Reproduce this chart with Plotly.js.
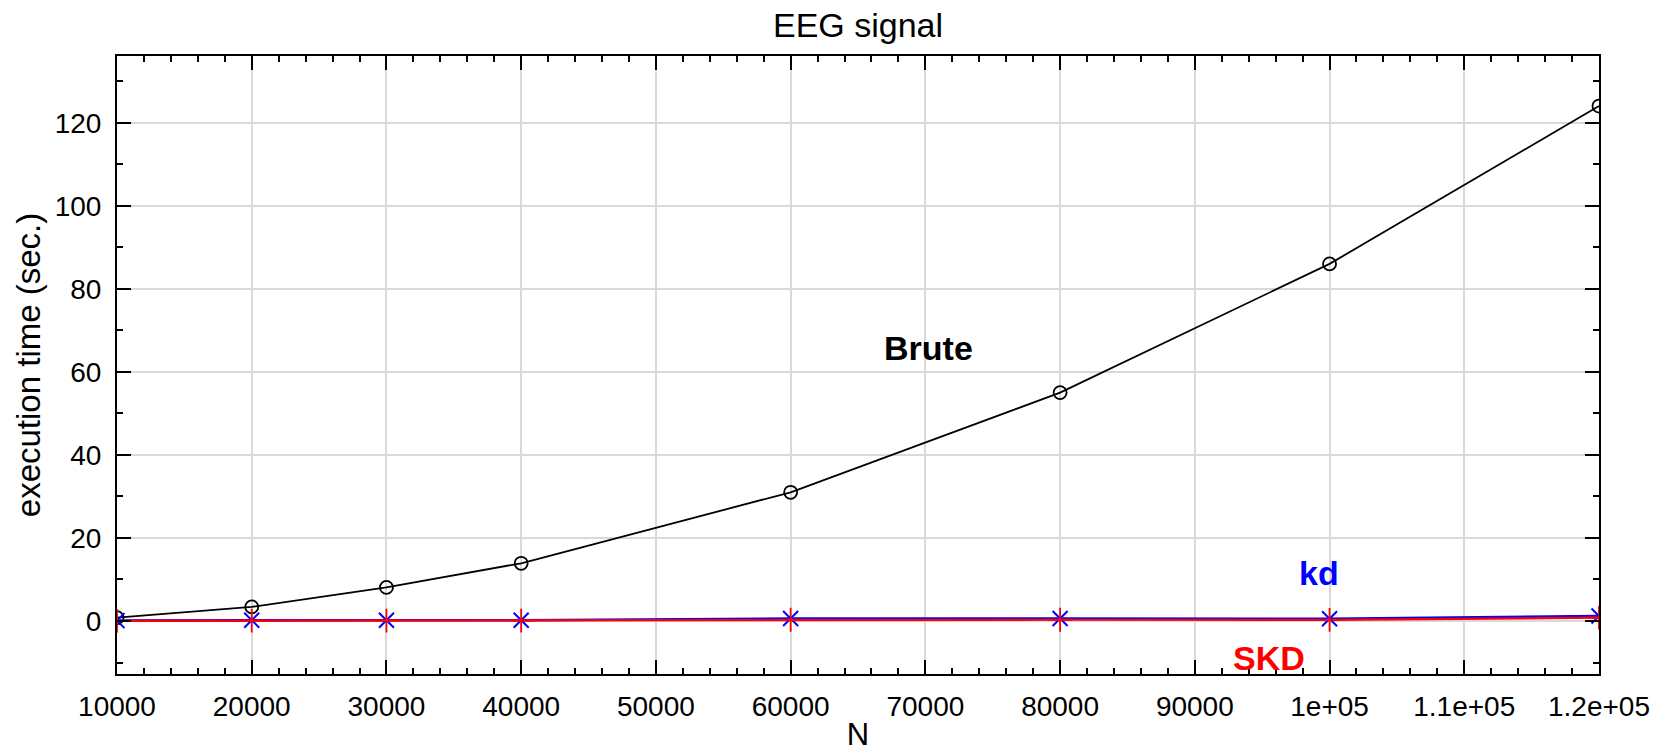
<!DOCTYPE html>
<html>
<head>
<meta charset="utf-8">
<script src="https://cdn.plot.ly/plotly-3.0.1.min.js"></script>
<style>
  html, body { margin: 0; padding: 0; background: #fff; }
  #chart { width: 1664px; height: 752px; }
</style>
</head>
<body>
<div id="chart"></div>
<script>
// Problem sizes N
const sizes = [10000, 20000, 30000, 40000, 60000, 80000, 100000, 120000];

// Execution times in seconds for each method
const bruteTimes = [0.8, 3.4, 8.1, 13.9, 31.0, 55.0, 86.0, 124.0];
const kdTimes    = [0.1, 0.2, 0.2, 0.2, 0.6, 0.6, 0.55, 1.2];
const skdTimes   = [0.05, 0.1, 0.1, 0.1, 0.3, 0.3, 0.25, 0.8];

// Axis tick positions and labels
const xTickVals = [10000, 20000, 30000, 40000, 50000, 60000, 70000, 80000, 90000, 100000, 110000, 120000];
const xTickText = ['10000', '20000', '30000', '40000', '50000', '60000', '70000', '80000', '90000', '1e+05', '1.1e+05', '1.2e+05'];
const yTickVals = [0, 20, 40, 60, 80, 100, 120];

// In-plot series labels
const seriesLabels = ['Brute', 'kd', 'SKD'];
const labelX = [70200, 99200, 95500];
const labelY = [65.7, 11.6, -8.9];
const labelColors = ['#000000', '#0000ff', '#ff0000'];

const FONT = 'Liberation Sans, Arial, Helvetica, sans-serif';

const traces = [
  {
    x: sizes, y: bruteTimes, type: 'scatter', mode: 'lines+markers', name: 'Brute',
    line: { color: '#000000', width: 1.8 },
    marker: { symbol: 'circle-open', size: 13, color: '#000000', line: { width: 1.8, color: '#000000' } }
  },
  {
    x: sizes, y: kdTimes, type: 'scatter', mode: 'lines+markers', name: 'kd',
    line: { color: '#0000ff', width: 2.6 },
    marker: { symbol: 'x-thin-open', size: 15, color: '#0000ff', line: { width: 2, color: '#0000ff' } }
  },
  {
    x: sizes, y: skdTimes, type: 'scatter', mode: 'lines+markers', name: 'SKD',
    line: { color: '#ff0000', width: 2.2 },
    marker: { symbol: 'cross-thin-open', size: 17, color: '#ff0000', line: { width: 1.8, color: '#ff0000' } }
  }
];

const annotations = seriesLabels.map((t, i) => ({
  x: labelX[i], y: labelY[i], xref: 'x', yref: 'y',
  text: '<b>' + t + '</b>', showarrow: false,
  font: { family: FONT, size: 34, color: labelColors[i] },
  xanchor: 'center', yanchor: 'middle'
}));

const axisCommon = {
  showline: true, linecolor: '#000000', linewidth: 2,
  mirror: 'allticks', ticks: 'inside', ticklen: 14, tickwidth: 2, tickcolor: '#000000',
  showgrid: true, gridcolor: '#d9d9d9', gridwidth: 2,
  zeroline: false,
  tickfont: { family: FONT, size: 28, color: '#000000' },
  automargin: false
};

const layout = {
  width: 1664, height: 752,
  margin: { l: 117, r: 65, t: 56, b: 78 },
  paper_bgcolor: '#ffffff', plot_bgcolor: '#ffffff',
  showlegend: false,
  title: {
    text: 'EEG signal',
    font: { family: FONT, size: 34, color: '#000000' },
    x: 0.5, xref: 'paper', xanchor: 'center',
    y: 0.967, yref: 'container', yanchor: 'middle'
  },
  xaxis: Object.assign({}, axisCommon, {
    range: [10000, 120000],
    ticklabelstandoff: 6,
    tickmode: 'array', tickvals: xTickVals, ticktext: xTickText,
    minor: { dtick: 2000, tick0: 10000, ticks: 'inside', ticklen: 6, tickwidth: 2, tickcolor: '#000000', showgrid: false },
    title: { text: 'N', font: { family: FONT, size: 31, color: '#000000' }, standoff: 6 }
  }),
  yaxis: Object.assign({}, axisCommon, {
    range: [-12.76, 136.06],
    ticklabelstandoff: 8,
    tickmode: 'array', tickvals: yTickVals,
    minor: { dtick: 10, tick0: 0, ticks: 'inside', ticklen: 6, tickwidth: 2, tickcolor: '#000000', showgrid: false },
    title: { text: 'execution time (sec.)', font: { family: FONT, size: 33, color: '#000000' }, standoff: 4 }
  }),
  annotations: annotations
};

Plotly.newPlot('chart', traces, layout, { displayModeBar: false, staticPlot: true });
</script>
</body>
</html>
